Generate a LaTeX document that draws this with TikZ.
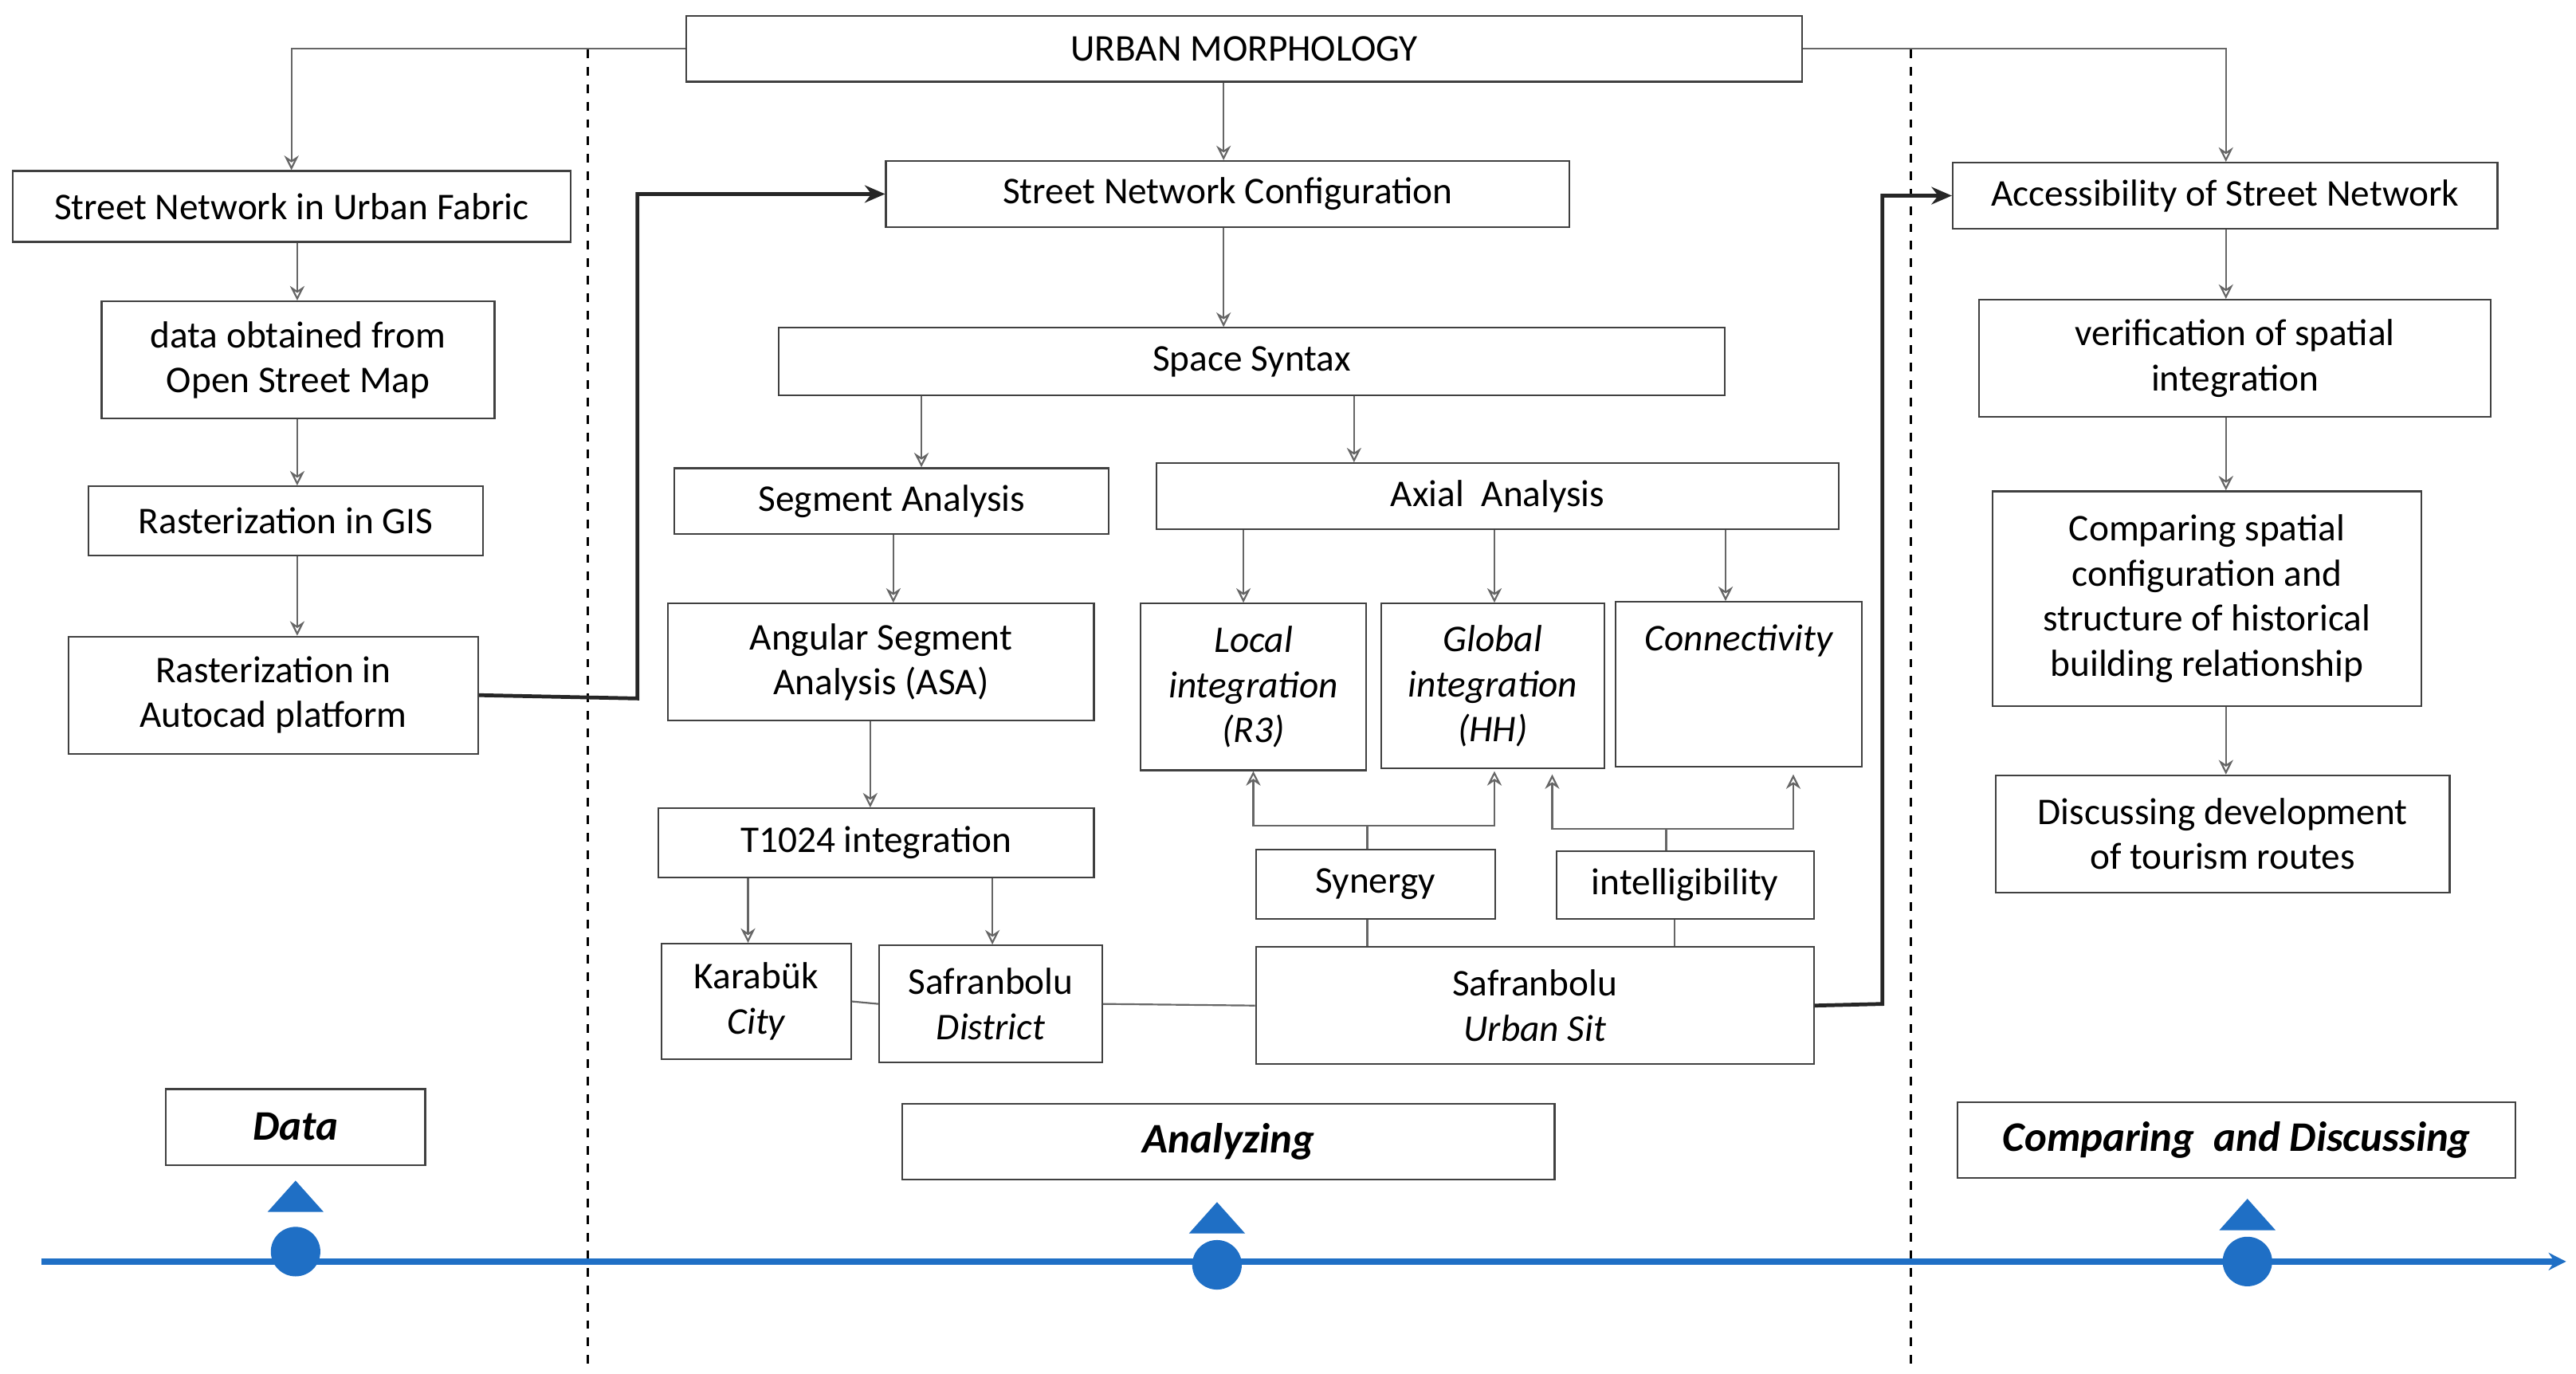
\documentclass[tikz,border=0pt]{standalone}
\usepackage{fontspec}
\setmainfont{Carlito}
\usetikzlibrary{arrows.meta}
\definecolor{bl}{HTML}{1F6FC5}
\begin{document}
\begin{tikzpicture}[x=0.02cm,y=-0.02cm,
 bx/.style={draw=black!75,line width=0.6pt,font=\fontsize{13}{15.5}\selectfont,align=center,inner sep=0pt},
 ar/.style={draw=black!60,line width=0.6pt,-{Stealth[length=5pt,width=5pt,open]}},
 ln/.style={draw=black!60,line width=0.6pt},
 th/.style={draw=black!85,line width=1.3pt,-{Stealth[length=7pt,width=6pt]}},
 lab/.style={font=\fontsize{14.5}{17}\selectfont\bfseries\itshape}]
\useasboundingbox (0,0) rectangle (1560,832);
\newcommand{\bxx}[6]{\node[bx,minimum width=#3*0.02cm-0.6pt,minimum height=#4*0.02cm-0.6pt,#6] (#1) at (#2) {#5};}
\bxx{um}{753.5,29.5}{677}{41}{URBAN MORPHOLOGY}{}
\bxx{snu}{176.5,125}{339}{44}{Street Network in Urban Fabric}{}
\bxx{osm}{180.5,218}{239}{72}{data obtained from\\Open Street Map}{}
\bxx{gis}{173,315.5}{240}{43}{Rasterization in GIS}{}
\bxx{cad}{165.5,421}{249}{72}{Rasterization in\\Autocad platform}{}
\bxx{snc}{743.5,117.5}{415}{41}{Street Network Configuration}{}
\bxx{ss}{758,219}{574}{42}{Space Syntax}{}
\bxx{seg}{540,303.5}{264}{41}{Segment Analysis}{}
\bxx{ax}{907,300.5}{414}{41}{Axial~ Analysis}{}
\bxx{asa}{533.5,401}{259}{72}{Angular Segment\\Analysis (ASA)}{}
\bxx{loc}{759,416}{138}{102}{\itshape Local\\\itshape integration\\\itshape (R3)}{}
\bxx{glo}{904,415.5}{136}{101}{\itshape Global\\\itshape integration\\\itshape (HH)}{}
\bxx{con}{1053,414.5}{150}{101}{}{}
\node[font=\fontsize{13}{15.5}\selectfont\itshape,anchor=north] at (1053,372) {Connectivity};
\bxx{t}{530.5,510.5}{265}{43}{T1024 integration}{}
\bxx{syn}{833,535.5}{146}{43}{Synergy}{}
\bxx{int}{1020.5,536}{157}{42}{intelligibility}{}
\bxx{kar}{458,606.5}{116}{71}{Karab\"uk\\\itshape City}{}
\bxx{sd}{600,608}{136}{72}{Safranbolu\\\itshape District}{}
\bxx{su}{929.5,609}{339}{72}{Safranbolu\\\itshape Urban Sit}{}
\bxx{acc}{1347.5,118.5}{331}{41}{Accessibility of Street Network}{}
\bxx{ver}{1353.5,217}{311}{72}{verification of spatial\\integration}{}
\bxx{cmp}{1336.5,362.5}{261}{131}{Comparing spatial\\configuration and\\structure of historical\\building relationship}{}
\bxx{dis}{1346,505}{276}{72}{Discussing development\\of tourism routes}{}
\bxx{dat}{179,682.5}{158}{47}{Data}{lab}
\bxx{ana}{744,691.5}{396}{47}{Analyzing}{lab}
\bxx{cd}{1354.5,690.5}{339}{47}{Comparing~ and Discussing}{lab}
% dashed
\draw[dashed,line width=0.8pt] (356,30)--(356,826) (1157,30)--(1157,826);
% timeline
\draw[bl,line width=2.2pt,-{Stealth[length=6pt,width=6pt]}] (25,764)--(1554,764);
\foreach \x/\y/\t in {179/758/715,737/766/728,1361/764/726}{
 \fill[bl] (\x,\y) circle (15);
 \fill[bl] (\x-17,\t+19)--(\x+17,\t+19)--(\x,\t)--cycle;}
% arrows
\draw[ar] (um.west) -| (snu.north);
\draw[ar] (um.east) -| (1348,98);
\draw[ar] (741,50)--(741,97);
\draw[ar] (741,138)--(741,198);
\draw[ar] (558,240)--(558,283);
\draw[ar] (820,240)--(820,280);
\draw[ar] (541,324)--(541,365);
\draw[ar] (527,437)--(527,489);
\draw[ar] (453,532)--(453,571);
\draw[ar] (601,532)--(601,572);
\draw[ar] (753,321)--(753,365);
\draw[ar] (905,321)--(905,365);
\draw[ar] (1045,321)--(1045,364);
\coordinate (sj) at (828,500); \coordinate (ij) at (1009,502);
\draw[ln] (syn.north -| sj)--(sj);
\draw[ar] (sj)-|(759,467); \draw[ar] (sj)-|(905,467);
\draw[ln] (int.north -| ij)--(ij);
\draw[ar] (ij)-|(940,469); \draw[ar] (ij)-|(1086,469);
\draw[ln] (828,557)--(828,573);
\draw[ln] (1014,557)--(1014,573);
\draw[ln] (kar.east)--(sd.west);
\draw[ln] (sd.east)--(su.west);
\draw[th] (su.east) -- (1140,608) |- (acc.west);
\draw[th] (cad.east) -- (386,423) |- (snc.west);
\draw[ar] (180,147)--(180,182);
\draw[ar] (180,254)--(180,294);
\draw[ar] (180,337)--(180,385);
\draw[ar] (1348,139)--(1348,181);
\draw[ar] (1348,253)--(1348,297);
\draw[ar] (1348,428)--(1348,469);
\end{tikzpicture}
\end{document}
